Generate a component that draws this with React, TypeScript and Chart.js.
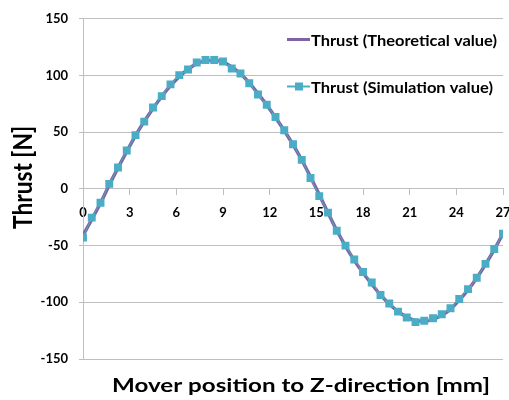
import React, { useEffect, useRef } from "react";
import { Chart, registerables } from "chart.js";

Chart.register(...registerables);

// ---- data ----
const positions = [
  0, 0.5625, 1.125, 1.6875, 2.25, 2.8125, 3.375, 3.9375, 4.5, 5.0625, 5.625, 6.1875, 6.75,
  7.3125, 7.875, 8.4375, 9, 9.5625, 10.125, 10.6875, 11.25, 11.8125, 12.375, 12.9375, 13.5,
  14.0625, 14.625, 15.1875, 15.75, 16.3125, 16.875, 17.4375, 18, 18.5625, 19.125, 19.6875,
  20.25, 20.8125, 21.375, 21.9375, 22.5, 23.0625, 23.625, 24.1875, 24.75, 25.3125, 25.875,
  26.4375, 27,
];

const theoretical = [
  -41, -27, -12.5, 3.5, 18.5, 33, 47, 59.5, 71, 81.5,
  91, 99, 105.5, 110.5, 113, 113.5, 112, 107.5, 101.5, 93.5,
  84, 74, 63, 51.5, 39, 25.5, 10.5, -5, -21, -36.5,
  -50.5, -63, -74, -84, -93.5, -101.5, -108, -113, -116, -116.5,
  -115, -111.5, -106, -98, -89, -78.5, -66.5, -53.5, -39.5,
];

const simulation = [
  -42.8, -25.3, -12.2, 4.4, 18.9, 33.8, 47.4, 59.3, 71.8, 81.8,
  92.2, 100.3, 105.3, 111.4, 113.7, 113.7, 112.3, 106.2, 101.8, 93.1,
  83.2, 74.2, 63.4, 51.7, 39.3, 25.6, 9.6, -6.4, -20.9, -36.9,
  -50.0, -62.2, -73.3, -82.6, -93.6, -101.0, -108.2, -113.4, -117.5, -116.3,
  -114.0, -110.6, -105.3, -97.1, -88.4, -78.3, -66.1, -53.0, -39.5,
];

const xTickValues = [0, 3, 6, 9, 12, 15, 18, 21, 24, 27];
const yTickValues = [-150, -100, -50, 0, 50, 100, 150];
const seriesLabels = ["Thrust (Theoretical value)", "Thrust (Simulation value)"];
const xTitle = "Mover position to Z-direction [mm]";
const yTitle = "Thrust [N]";

// ---- styles ----
const PURPLE = "#8064A2";
const TEAL = "#4BACC6";
const GRID = "#BFBFBF";
const FONT = "Lato";

function fitText(
  ctx: CanvasRenderingContext2D,
  text: string,
  x: number,
  baseline: number,
  width: number,
  cap: number,
  align: CanvasTextAlign
) {
  const size = cap / 0.72;
  ctx.save();
  ctx.font = `bold ${size}px ${FONT}`;
  const w = ctx.measureText(text).width;
  const sx = width / w;
  ctx.translate(x, baseline);
  ctx.scale(sx, 1);
  ctx.textAlign = align;
  ctx.textBaseline = "alphabetic";
  ctx.fillStyle = "#000";
  ctx.fillText(text, 0, 0);
  ctx.restore();
}

const decorPlugin = {
  id: "decor",
  afterDraw(chart: any) {
    const ctx: CanvasRenderingContext2D = chart.ctx;
    // y title
    ctx.save();
    ctx.translate(32, 177.5);
    ctx.rotate(-Math.PI / 2);
    fitText(ctx, yTitle, 0, 0, 103, 19, "center");
    ctx.restore();
    // x title
    fitText(ctx, xTitle, 301, 392, 378, 14, "center");

    // legend
    ctx.save();
    ctx.strokeStyle = PURPLE;
    ctx.lineWidth = 3;
    ctx.beginPath();
    ctx.moveTo(287, 39.5);
    ctx.lineTo(310, 39.5);
    ctx.stroke();
    ctx.strokeStyle = TEAL;
    ctx.lineWidth = 2;
    ctx.beginPath();
    ctx.moveTo(287, 86.5);
    ctx.lineTo(310, 86.5);
    ctx.stroke();
    ctx.fillStyle = TEAL;
    ctx.fillRect(295, 82.5, 8, 8);
    ctx.restore();
    fitText(ctx, seriesLabels[0], 311, 45.5, 186, 11.5, "left");
    fitText(ctx, seriesLabels[1], 311, 92.5, 182, 11.5, "left");
  },
};

export default function App() {
  const ref = useRef<HTMLCanvasElement | null>(null);

  useEffect(() => {
    if (!ref.current) return;
    const tickFont = { family: FONT, weight: "bold" as const, size: 13 };
    const chart = new Chart(ref.current, {
      type: "line",
      data: {
        datasets: [
          {
            label: seriesLabels[1],
            data: positions.map((x, i) => ({ x, y: simulation[i] })),
            borderColor: TEAL,
            backgroundColor: TEAL,
            borderWidth: 1,
            pointStyle: "rect",
            pointRadius: 5.6,
            pointBorderWidth: 0,
            pointBackgroundColor: TEAL,
            order: 0,
          },
          {
            label: seriesLabels[0],
            data: positions.map((x, i) => ({ x, y: theoretical[i] })),
            borderColor: PURPLE,
            backgroundColor: PURPLE,
            borderWidth: 3.5,
            pointRadius: 0,
            cubicInterpolationMode: "monotone",
            order: 1,
          },
        ],
      },
      options: {
        responsive: false,
        animation: false,
        devicePixelRatio: 1,
        layout: { padding: { top: 14, right: 6, bottom: 41, left: 0 } },
        plugins: {
          legend: { display: false },
          tooltip: { enabled: false },
          title: { display: false },
        },
        scales: {
          x: {
            type: "linear",
            position: { y: 0 } as any,
            min: 0,
            max: 27,
            afterBuildTicks: (s: any) => {
              s.ticks = xTickValues.map((v) => ({ value: v }));
            },
            afterFit: (s: any) => {
              s.paddingLeft = 0;
              s.paddingRight = 0;
            },
            grid: {
              drawOnChartArea: false,
              drawTicks: true,
              tickLength: 6,
              tickColor: GRID,
              color: GRID,
            },
            border: { color: GRID, width: 1 },
            ticks: {
              font: tickFont,
              color: "#000",
              padding: 10,
              maxRotation: 0,
              autoSkip: false,
            },
          },
          y: {
            type: "linear",
            min: -150,
            max: 150,
            afterBuildTicks: (s: any) => {
              s.ticks = yTickValues.map((v) => ({ value: v }));
            },
            afterFit: (s: any) => {
              s.width = 83;
            },
            grid: {
              color: GRID,
              tickColor: GRID,
              tickLength: 4,
              drawTicks: true,
            },
            border: { color: GRID, width: 1 },
            ticks: { font: tickFont, color: "#000", padding: 11 },
          },
        },
      },
      plugins: [decorPlugin],
    });
    return () => chart.destroy();
  }, []);

  return (
    <div style={{ position: "absolute", left: 0, top: 0, width: 509, height: 400, background: "#fff" }}>
      <canvas ref={ref} width={509} height={400} style={{ display: "block" }} />
    </div>
  );
}
